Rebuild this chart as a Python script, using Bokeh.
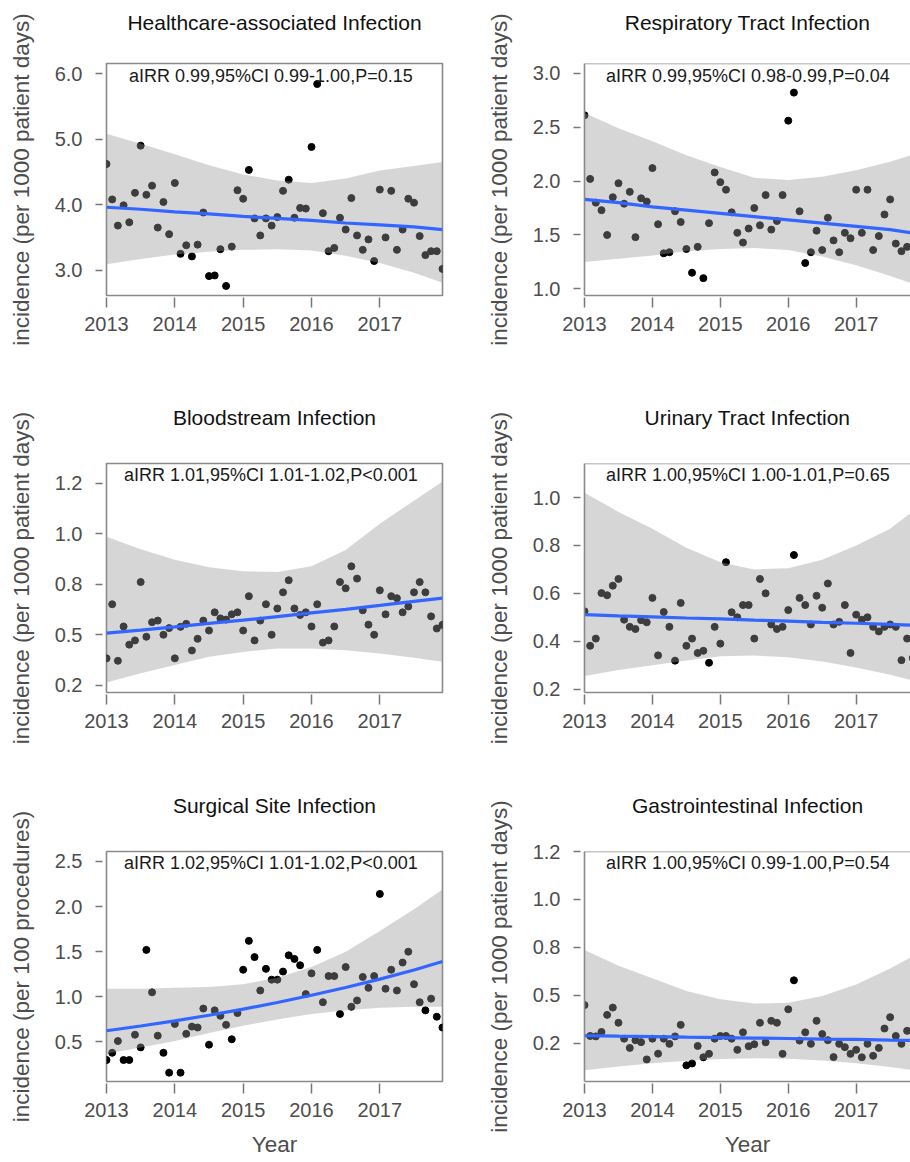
import numpy as np
from bokeh.plotting import figure
from bokeh.layouts import column, row
from bokeh.models import FixedTicker, Span, Label, LinearAxis
from bokeh.embed import file_html
from bokeh.resources import INLINE

FONT = "Liberation Sans"

# ---------------- data ----------------
months = list(range(60))  # Jan 2013 ... Dec 2017 (month index)
knots = [2013.0, 2013.5, 2014.0, 2014.5, 2015.0, 2015.5, 2016.0, 2016.5, 2017.0, 2017.5, 2017.917]
year_ticks = [2013, 2014, 2015, 2016, 2017]
year_labels = ["2013", "2014", "2015", "2016", "2017"]

titles = ["Healthcare-associated Infection", "Respiratory Tract Infection",
          "Bloodstream Infection", "Urinary Tract Infection",
          "Surgical Site Infection", "Gastrointestinal Infection"]
stats = ["aIRR 0.99,95%CI 0.99-1.00,P=0.15", "aIRR 0.99,95%CI 0.98-0.99,P=0.04",
         "aIRR 1.01,95%CI 1.01-1.02,P<0.001", "aIRR 1.00,95%CI 1.00-1.01,P=0.65",
         "aIRR 1.02,95%CI 1.01-1.02,P<0.001", "aIRR 1.00,95%CI 0.99-1.00,P=0.54"]
ylabels = ["incidence (per 1000 patient days)", "incidence (per 1000 patient days)",
           "incidence (per 1000 patient days)", "incidence (per 1000 patient days)",
           "incidence (per 100 procedures)", "incidence (per 1000 patient days)"]
xlabel = "Year"

hai = [4.62, 4.08, 3.68, 3.99, 3.73, 4.18, 4.90, 4.15, 4.29, 3.65,
       4.04, 3.55, 4.33, 3.25, 3.38, 3.21, 3.39, 3.88, 2.91, 2.92,
       3.32, 2.76, 3.36, 4.22, 4.09, 4.53, 3.79, 3.53, 3.79, 3.68,
       3.81, 4.21, 4.38, 3.80, 3.95, 3.94, 4.88, 5.84, 3.87, 3.29,
       3.34, 3.80, 3.62, 4.10, 3.53, 3.31, 3.47, 3.14, 4.23, 3.50,
       4.21, 3.31, 3.62, 4.09, 4.03, 3.52, 3.23, 3.29, 3.29, 3.02]
hai_fit = [3.96, 3.93, 3.89, 3.86, 3.82, 3.79, 3.76, 3.72, 3.69, 3.66, 3.62]
hai_lo = [3.09, 3.17, 3.24, 3.28, 3.31, 3.32, 3.30, 3.22, 3.11, 2.96, 2.81]
hai_hi = [5.08, 4.93, 4.77, 4.60, 4.46, 4.37, 4.33, 4.40, 4.52, 4.59, 4.65]
hai_yticks = [3.0, 4.0, 5.0, 6.0]
hai_ytick_labels = ["3.0", "4.0", "5.0", "6.0"]

rti = [2.61, 2.02, 1.80, 1.73, 1.50, 1.85, 1.98, 1.79, 1.90, 1.48,
       1.84, 1.81, 2.12, 1.60, 1.33, 1.34, 1.72, 1.62, 1.37, 1.15,
       1.39, 1.10, 1.61, 2.08, 1.99, 1.92, 1.71, 1.52, 1.43, 1.56,
       1.75, 1.59, 1.87, 1.55, 1.63, 1.87, 2.56, 2.82, 1.72, 1.24,
       1.34, 1.54, 1.36, 1.66, 1.45, 1.34, 1.52, 1.47, 1.92, 1.52,
       1.92, 1.36, 1.49, 1.69, 1.83, 1.42, 1.35, 1.39]
rti_fit = [1.83, 1.80, 1.76, 1.73, 1.70, 1.67, 1.64, 1.61, 1.58, 1.55, 1.51]
rti_lo = [1.25, 1.28, 1.31, 1.35, 1.37, 1.38, 1.36, 1.30, 1.22, 1.12, 1.03]
rti_hi = [2.63, 2.49, 2.37, 2.24, 2.13, 2.03, 2.01, 2.04, 2.10, 2.18, 2.26]
rti_yticks = [1.0, 1.5, 2.0, 2.5, 3.0]
rti_ytick_labels = ["1.0", "1.5", "2.0", "2.5", "3.0"]

bsi = [0.383, 0.651, 0.371, 0.541, 0.451, 0.472, 0.761, 0.490, 0.562, 0.570,
       0.500, 0.533, 0.383, 0.539, 0.554, 0.422, 0.480, 0.570, 0.521, 0.611,
       0.581, 0.575, 0.601, 0.611, 0.521, 0.691, 0.472, 0.570, 0.651, 0.500,
       0.630, 0.710, 0.770, 0.630, 0.598, 0.611, 0.541, 0.651, 0.461, 0.472,
       0.541, 0.761, 0.730, 0.839, 0.778, 0.621, 0.550, 0.500, 0.720, 0.601,
       0.691, 0.681, 0.611, 0.640, 0.710, 0.761, 0.710, 0.591, 0.531, 0.549]
bsi_fit = [0.508, 0.523, 0.539, 0.556, 0.572, 0.590, 0.608, 0.626, 0.645, 0.665, 0.681]
bsi_lo = [0.264, 0.309, 0.350, 0.391, 0.415, 0.432, 0.432, 0.423, 0.407, 0.386, 0.366]
bsi_hi = [0.985, 0.923, 0.871, 0.834, 0.814, 0.811, 0.839, 0.920, 1.050, 1.164, 1.259]
bsi_yticks = [0.25, 0.5, 0.75, 1.0, 1.25]
bsi_ytick_labels = ["0.2", "0.5", "0.8", "1.0", "1.2"]

uti = [0.525, 0.381, 0.411, 0.601, 0.592, 0.632, 0.660, 0.490, 0.460, 0.451,
       0.488, 0.479, 0.581, 0.341, 0.522, 0.460, 0.319, 0.560, 0.381, 0.411,
       0.351, 0.360, 0.310, 0.460, 0.390, 0.730, 0.521, 0.500, 0.551, 0.551,
       0.411, 0.660, 0.600, 0.470, 0.451, 0.460, 0.530, 0.760, 0.581, 0.551,
       0.470, 0.590, 0.540, 0.641, 0.470, 0.481, 0.551, 0.351, 0.511, 0.490,
       0.500, 0.460, 0.441, 0.460, 0.470, 0.460, 0.321, 0.411, 0.330]
uti_fit = [0.511, 0.506, 0.502, 0.497, 0.493, 0.488, 0.484, 0.479, 0.475, 0.470, 0.466]
uti_lo = [0.255, 0.280, 0.300, 0.320, 0.337, 0.340, 0.333, 0.315, 0.290, 0.260, 0.230]
uti_hi = [1.020, 0.940, 0.870, 0.790, 0.730, 0.700, 0.705, 0.740, 0.800, 0.870, 0.960]
uti_yticks = [0.2, 0.4, 0.6, 0.8, 1.0]
uti_ytick_labels = ["0.2", "0.4", "0.6", "0.8", "1.0"]

ssi = [0.30, 0.38, 0.51, 0.30, 0.30, 0.58, 0.44, 1.52, 1.05, 0.57,
       0.38, 0.16, 0.70, 0.16, 0.59, 0.67, 0.66, 0.87, 0.47, 0.85,
       0.79, 0.69, 0.53, 0.82, 1.30, 1.62, 1.44, 1.07, 1.31, 1.19,
       1.19, 1.28, 1.46, 1.42, 1.35, 1.03, 1.26, 1.52, 0.94, 1.23,
       1.23, 0.81, 1.33, 0.89, 0.96, 1.22, 1.10, 1.23, 2.14, 1.09,
       1.30, 1.07, 1.38, 1.50, 1.14, 0.94, 0.85, 0.98, 0.78, 0.66]
ssi_fit = [0.624, 0.677, 0.734, 0.796, 0.864, 0.937, 1.017, 1.103, 1.196, 1.297, 1.391]
ssi_lo = [0.37, 0.44, 0.51, 0.60, 0.68, 0.75, 0.81, 0.85, 0.88, 0.89, 0.89]
ssi_hi = [1.09, 1.09, 1.10, 1.11, 1.14, 1.21, 1.33, 1.50, 1.73, 1.97, 2.19]
ssi_yticks = [0.5, 1.0, 1.5, 2.0, 2.5]
ssi_ytick_labels = ["0.5", "1.0", "1.5", "2.0", "2.5"]

gii = [0.450, 0.289, 0.287, 0.310, 0.399, 0.437, 0.358, 0.275, 0.227, 0.267,
       0.257, 0.167, 0.275, 0.197, 0.275, 0.248, 0.287, 0.347, 0.136, 0.146,
       0.237, 0.178, 0.196, 0.275, 0.289, 0.289, 0.275, 0.217, 0.308, 0.236,
       0.246, 0.358, 0.256, 0.368, 0.358, 0.196, 0.428, 0.579, 0.265, 0.308,
       0.248, 0.368, 0.299, 0.267, 0.179, 0.248, 0.231, 0.196, 0.217, 0.178,
       0.248, 0.186, 0.227, 0.328, 0.387, 0.289, 0.248, 0.316]
gii_fit = [0.291, 0.288, 0.286, 0.283, 0.281, 0.278, 0.276, 0.273, 0.271, 0.268, 0.266]
gii_lo = [0.111, 0.130, 0.147, 0.160, 0.169, 0.173, 0.171, 0.162, 0.147, 0.127, 0.108]
gii_hi = [0.737, 0.655, 0.590, 0.523, 0.480, 0.458, 0.462, 0.497, 0.557, 0.640, 0.720]
gii_yticks = [0.25, 0.5, 0.75, 1.0, 1.25]
gii_ytick_labels = ["0.2", "0.5", "0.8", "1.0", "1.2"]

# axis limits of each panel
y_limits = [(2.614, 6.153), (0.939, 3.09), (0.214, 1.348),
            (0.186, 1.142), (0.062, 2.61), (0.052, 1.25)]

panels = [
    (hai, hai_fit, hai_lo, hai_hi, hai_yticks, hai_ytick_labels),
    (rti, rti_fit, rti_lo, rti_hi, rti_yticks, rti_ytick_labels),
    (bsi, bsi_fit, bsi_lo, bsi_hi, bsi_yticks, bsi_ytick_labels),
    (uti, uti_fit, uti_lo, uti_hi, uti_yticks, uti_ytick_labels),
    (ssi, ssi_fit, ssi_lo, ssi_hi, ssi_yticks, ssi_ytick_labels),
    (gii, gii_fit, gii_lo, gii_hi, gii_yticks, gii_ytick_labels),
]

# ---------------- layout ----------------
FRAME_H = 232
row_heights = [402, 388, 372]
border_top = [63, 58, 59]
border_bottom = [107, 98, 81]
title_standoff = [30, 35, 35]
BOX = "#8a8a8a"
TXT = "#4d4d4d"

x_all = [2013 + m / 12 for m in months]


def make_panel(k):
    vals, fit, lo, hi, yt, ytl = panels[k]
    r, right = divmod(k, 2)
    right = bool(right)
    fw = 328 if right else 336
    bl = 99 if right else 106
    br = 0 if right else 41
    x_end = 2013 + fw / 336 * (2017.917 - 2013)
    y0, y1 = y_limits[k]
    ppu = FRAME_H / (y1 - y0)
    p = figure(width=bl + fw + br, height=row_heights[r],
               x_range=(2013, x_end), y_range=(y0, y1),
               output_backend="svg", toolbar_location=None,
               min_border_left=bl, min_border_right=br,
               min_border_top=border_top[r], min_border_bottom=border_bottom[r],
               background_fill_color="white", border_fill_color="white")
    p.grid.visible = False
    xa = p.below[0]
    ya = p.left[0]

    # points, then CI ribbon over them, then fitted line
    p.scatter(x_all[:len(vals)], vals, size=7, color="black")
    p.varea(x=knots, y1=lo, y2=hi, fill_color="#999999", fill_alpha=0.4)
    p.line(knots, fit, line_color="#3366FF", line_width=3.2)

    # frame
    if right:
        p.outline_line_color = None
        for ax in (xa, ya):
            ax.axis_line_color = BOX
            ax.axis_line_width = 1.6
        p.add_layout(Span(location=y1, dimension="width", line_color=BOX, line_width=1.6))
    else:
        p.outline_line_color = BOX
        p.outline_line_width = 1.6
        xa.axis_line_color = None
        ya.axis_line_color = None

    # panel title: label of a bare axis above the frame
    top = LinearAxis(ticker=FixedTicker(ticks=[]), axis_label=titles[k],
                     axis_line_color=None, major_tick_in=0, major_tick_out=0,
                     minor_tick_in=0, minor_tick_out=0, major_label_standoff=0,
                     axis_label_standoff=title_standoff[r],
                     axis_label_text_font=FONT, axis_label_text_font_size="21px",
                     axis_label_text_font_style="normal", axis_label_text_color="#111111")
    p.add_layout(top, "above")

    # axes
    xa.ticker = FixedTicker(ticks=year_ticks)
    xa.major_label_overrides = dict(zip(year_ticks, year_labels))
    ya.ticker = FixedTicker(ticks=yt)
    ya.major_label_overrides = dict(zip(yt, ytl))
    for ax in (xa, ya):
        ax.major_tick_line_color = "#777777"
        ax.major_tick_line_width = 1.5
        ax.minor_tick_line_color = None
        ax.major_label_text_font = FONT
        ax.major_label_text_font_size = "20px"
        ax.major_label_text_color = TXT
    xa.major_tick_in = -2
    xa.major_tick_out = 12
    xa.major_label_standoff = 9
    ya.major_tick_in = -4
    ya.major_tick_out = 11
    ya.major_label_standoff = 13
    ya.axis_label = ylabels[k]
    ya.axis_label_text_font = FONT
    ya.axis_label_text_font_size = "22.5px"
    ya.axis_label_text_font_style = "normal"
    ya.axis_label_text_color = TXT
    ya.axis_label_standoff = 18
    if r == 2:
        xa.axis_label = xlabel
        xa.axis_label_text_font = FONT
        xa.axis_label_text_font_size = "22.5px"
        xa.axis_label_text_font_style = "normal"
        xa.axis_label_text_color = TXT
        xa.axis_label_standoff = 12

    # statistics annotation
    p.add_layout(Label(x=2015.405, y=y1 - 12 / ppu, text=stats[k],
                       text_align="center", text_baseline="middle",
                       text_font=FONT, text_font_size="18px", text_color="#1a1a1a"))
    return p


figs = [make_panel(k) for k in range(6)]
layout = column(row(figs[0], figs[1]), row(figs[2], figs[3]), row(figs[4], figs[5]))

with open("out.html", "w") as f:
    f.write(file_html(layout, INLINE))
